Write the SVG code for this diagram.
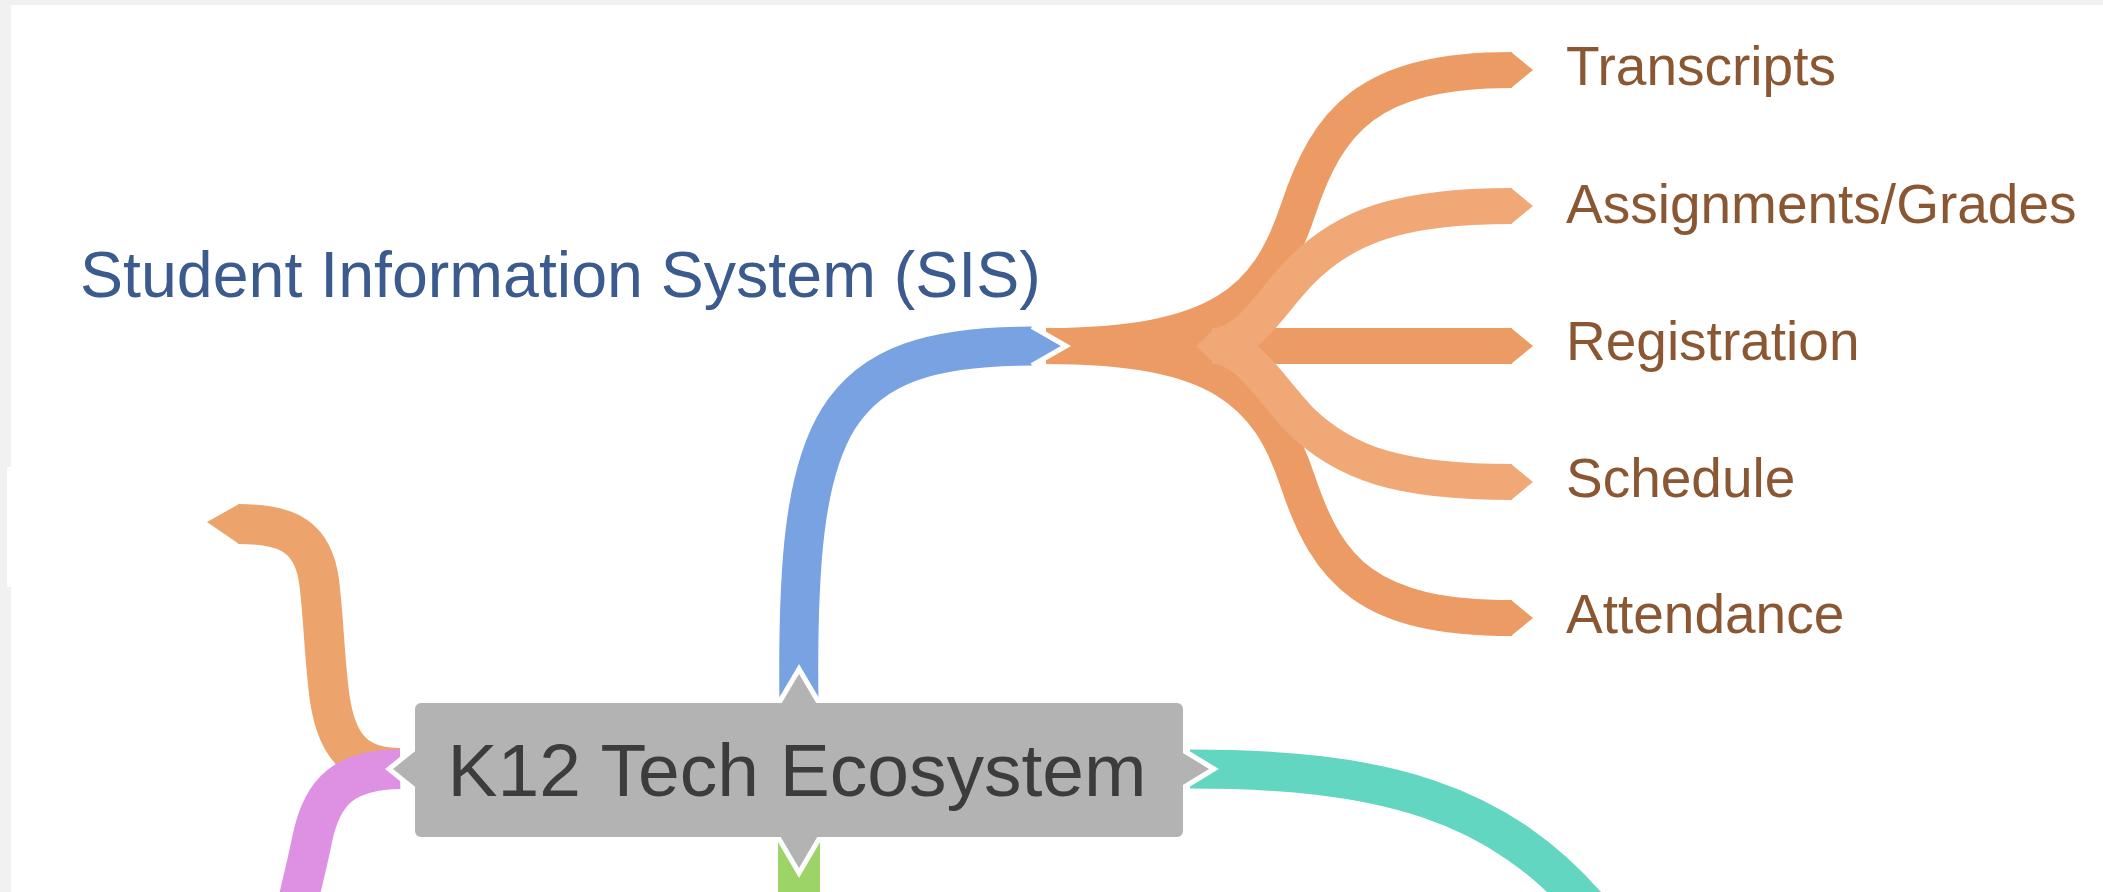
<svg xmlns="http://www.w3.org/2000/svg" width="2103" height="892" viewBox="0 0 2103 892">
<style>
.rib{fill:none;stroke-linecap:butt;stroke-linejoin:round}
.lbl{font-family:"Liberation Sans",Arial,sans-serif;font-size:55px;fill:#8b5733}
.dk{stroke:#ec9b64}
.lt{stroke:#f0a877}
.dkf{fill:#ec9b64}
.ltf{fill:#f0a877}
.wl{fill:none;stroke:#fff;stroke-width:5;stroke-linejoin:miter}
.arr{fill:#b3b3b3;stroke:#fff;stroke-width:5;stroke-linejoin:miter}
</style>
<rect x="0" y="0" width="2103" height="892" fill="#f1f1f1"/>
<rect x="11" y="5" width="2092" height="887" fill="#ffffff"/>
<rect x="7" y="467" width="10" height="120" fill="#ffffff"/>
<g id="connectors">
  <!-- SIS children (orange) -->
  <path class="rib dk" stroke-width="36" d="M 1046 346 C 1220 346 1268 300 1298 210 C 1328 120 1368 70 1512 70"/>
  <polygon class="dkf" points="1511,52 1533,70 1511,88"/>
  <path class="rib dk" stroke-width="36" d="M 1046 346 L 1512 346"/>
  <polygon class="dkf" points="1511,328 1533,346 1511,364"/>
  <path class="rib dk" stroke-width="36" d="M 1046 346 C 1220 346 1268 392 1298 482 C 1328 572 1368 618 1512 618"/>
  <polygon class="dkf" points="1511,600 1533,618 1511,636"/>
  <path class="rib lt" stroke-width="36" d="M 1212 346 C 1248 346 1268 305 1300 272 C 1345 226 1400 206 1512 206"/>
  <polygon class="ltf" points="1511,188 1533,206 1511,224"/>
  <path class="rib lt" stroke-width="36" d="M 1212 346 C 1248 346 1268 387 1300 420 C 1345 464 1400 482 1512 482"/>
  <polygon class="ltf" points="1511,464 1533,482 1511,500"/>
  <polygon class="ltf" points="1196,346 1213,330 1213,362"/>
  <!-- SIS (blue) -->
  <path class="rib" stroke="#78a2e2" stroke-width="39" d="M 799 706 C 795 420 830 346 1033 346"/>
  <polygon points="1032,326.5 1066,346 1032,365.5" fill="#78a2e2"/>
  <polyline class="wl" points="1032,326.5 1066,346 1032,365.5"/>
  <!-- left orange stub -->
  <path class="rib" stroke="#eca46c" stroke-width="40" d="M 400 768 C 355 768 337 745 330 700 C 324 660 323 600 318 575 C 310 533 282 524 238 524"/>
  <polygon points="239,504 207,522 239,544" fill="#eca46c"/>
  <!-- pink -->
  <path class="rib" stroke="#de90e3" stroke-width="40" d="M 400 769 C 345 770 322 790 312 840 C 306 870 300 890 296 912"/>
  <!-- green -->
  <path class="rib" stroke="#9cd468" stroke-width="42" d="M 799 830 L 799 895"/>
  <!-- teal -->
  <path class="rib" stroke="#63d6c1" stroke-width="39" d="M 1190 769 C 1380 769 1500 800 1595 915"/>
</g>
<g id="node-center">
  <polygon class="arr" points="389,769 425,740 425,798"/>
  <polygon class="arr" points="799,669 773,713 825,713"/>
  <polygon class="arr" points="799,873 772,827 826,827"/>
  <polygon class="arr" points="1214,769 1173,744 1173,794"/>
  <rect x="415" y="703" width="768" height="134" rx="6" fill="#b3b3b3"/>
  <text x="797" y="796" text-anchor="middle" font-family="Liberation Sans, Arial, sans-serif" font-size="75" fill="#3c3c3c">K12 Tech Ecosystem</text>
</g>
<g id="node-sis">
  <text x="80" y="297" font-family="Liberation Sans, Arial, sans-serif" font-size="64.5" fill="#3b5a8e">Student Information System (SIS)</text>
</g>
<g id="node-transcripts"><text class="lbl" x="1566" y="85">Transcripts</text></g>
<g id="node-assignments"><text class="lbl" x="1566" y="223">Assignments/Grades</text></g>
<g id="node-registration"><text class="lbl" x="1566" y="360">Registration</text></g>
<g id="node-schedule"><text class="lbl" x="1566" y="497">Schedule</text></g>
<g id="node-attendance"><text class="lbl" x="1566" y="633">Attendance</text></g>
</svg>
